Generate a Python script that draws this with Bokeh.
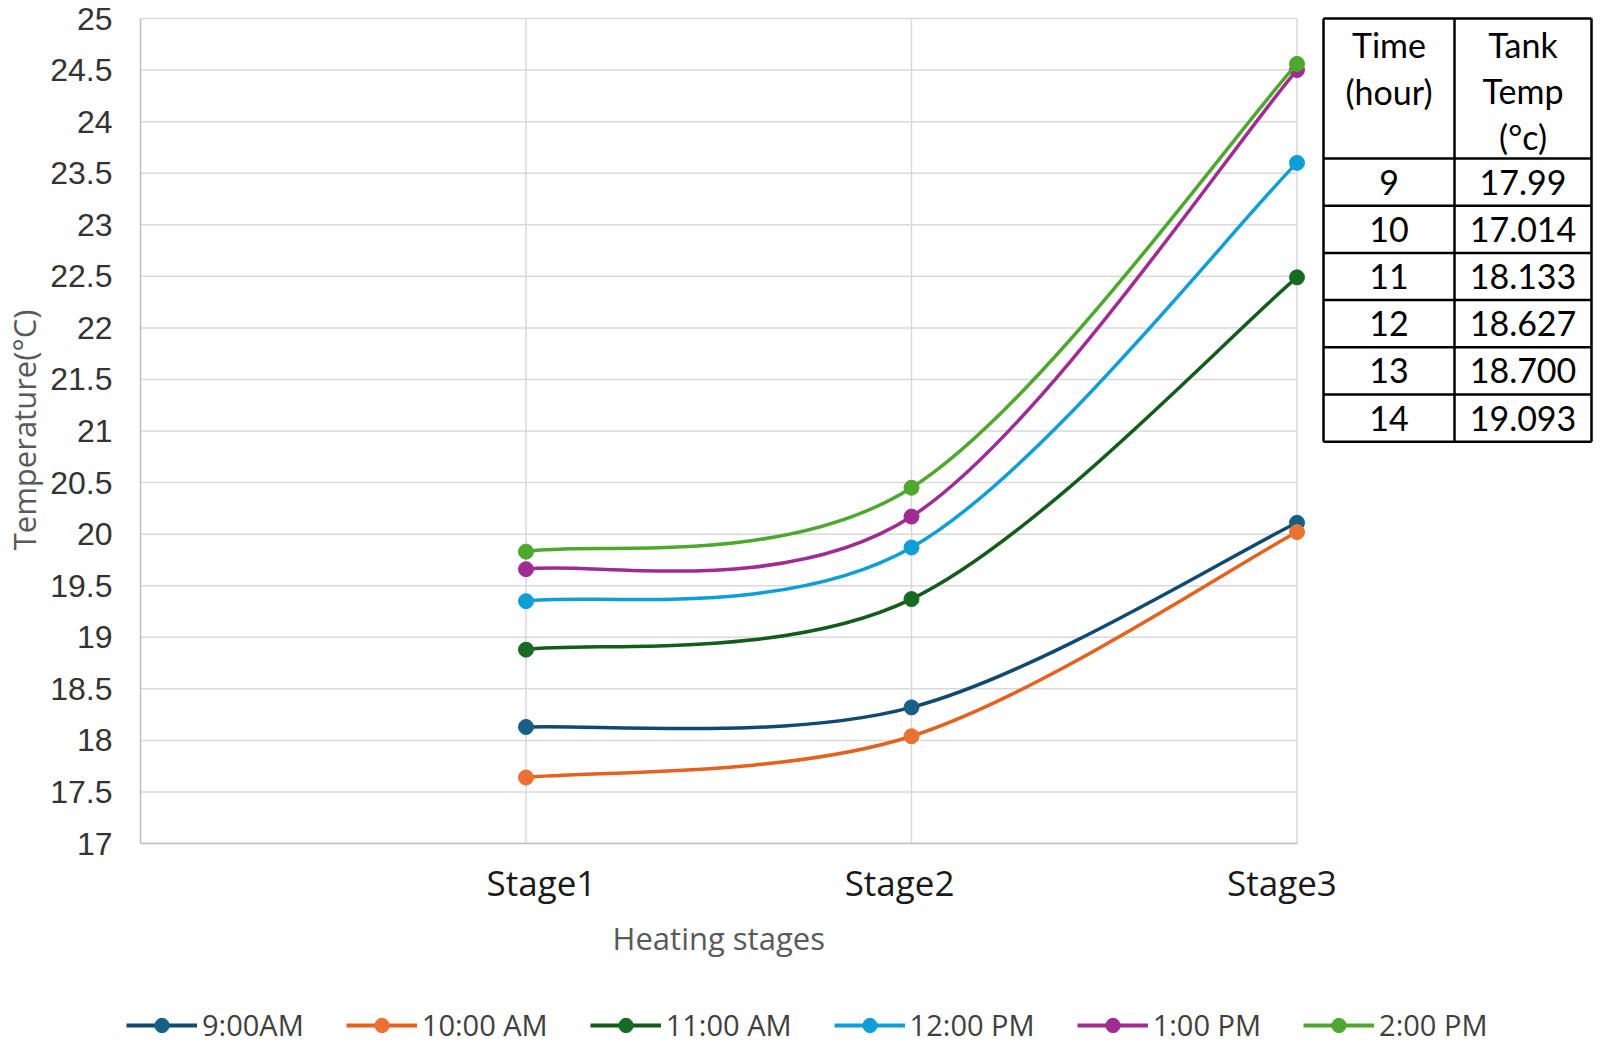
from bokeh.plotting import figure
from bokeh.models import (Range1d, FixedTicker, CustomJSTickFormatter, NumeralTickFormatter,
                          Legend, LegendItem)
from bokeh.layouts import column, row
from bokeh.embed import file_html
from bokeh.resources import INLINE
from bokeh.core.properties import value

# ---------------- data ----------------
stages = ["Stage1", "Stage2", "Stage3"]
series_names = ["9:00AM", "10:00 AM", "11:00 AM", "12:00 PM", "1:00 PM", "2:00 PM"]
t_0900 = [18.13, 18.32, 20.11]
t_1000 = [17.64, 18.04, 20.02]
t_1100 = [18.88, 19.37, 22.49]
t_1200 = [19.35, 19.87, 23.60]
t_1300 = [19.66, 20.17, 24.50]
t_1400 = [19.83, 20.45, 24.56]
series_values = [t_0900, t_1000, t_1100, t_1200, t_1300, t_1400]
y_ticks = [17, 17.5, 18, 18.5, 19, 19.5, 20, 20.5, 21, 21.5, 22, 22.5, 23, 23.5, 24, 24.5, 25]
x_title = "Heating stages"
y_title = "Temperature(°C)"

table_header_time = ["Time", "(hour)"]
table_header_temp = ["Tank", "Temp", "(°c)"]
table_hours = ["9", "10", "11", "12", "13", "14"]
table_temps = ["17.99", "17.014", "18.133", "18.627", "18.700", "19.093"]

# ---------------- style ----------------
line_colors = ["#114a70", "#E4621F", "#135c1c", "#0F9ED5", "#A02B93", "#4EA72E"]
marker_colors = ["#165f85", "#E97132", "#196B24", "#0F9ED5", "#A02B93", "#4EA72E"]
GRID = "#d9d9d9"
AXIS = "#bfbfbf"
FONT = "Open Sans"

PAGE_W = 1598
BORDER_L, BORDER_T = 140, 16
FRAME_W = PAGE_W - BORDER_L
FRAME_H = 827
MAIN_H = 910
BOTTOM_H = 136
PX_PER_STAGE = 385.5
PX_PER_DEG = 103.1

x_pos = [i + 1 for i in range(len(stages))]


def smooth_segments(xs, ys):
    """Bezier control points (Catmull-Rom style, like Excel's smoothed line)."""
    pts = list(zip(xs, ys))
    n = len(pts)
    out = {k: [] for k in ["x0", "y0", "x1", "y1", "cx0", "cy0", "cx1", "cy1"]}
    for i in range(n - 1):
        p0 = pts[i - 1] if i > 0 else pts[i]
        p1 = pts[i]
        p2 = pts[i + 1]
        p3 = pts[i + 2] if i + 2 < n else pts[i + 1]
        out["x0"].append(p1[0]); out["y0"].append(p1[1])
        out["x1"].append(p2[0]); out["y1"].append(p2[1])
        out["cx0"].append(p1[0] + (p2[0] - p0[0]) / 6.0)
        out["cy0"].append(p1[1] + (p2[1] - p0[1]) / 6.0)
        out["cx1"].append(p2[0] - (p3[0] - p1[0]) / 6.0)
        out["cy1"].append(p2[1] - (p3[1] - p1[1]) / 6.0)
    return out


# ---------------- main chart ----------------
y_top = y_ticks[-1] + 2.0 / PX_PER_DEG
p = figure(width=PAGE_W, height=MAIN_H,
           x_range=Range1d(0, FRAME_W / PX_PER_STAGE),
           y_range=Range1d(y_ticks[0], y_top),
           output_backend="svg", toolbar_location=None,
           min_border_left=BORDER_L, min_border_right=0, min_border_top=BORDER_T,
           min_border_bottom=MAIN_H - BORDER_T - FRAME_H)
p.xgrid.visible = False
p.ygrid.visible = False
p.outline_line_color = None
p.background_fill_color = "white"
p.border_fill_color = "white"

# grid lines bounded to the category span
p.segment(x0=[0] * len(y_ticks), x1=[len(stages)] * len(y_ticks), y0=y_ticks, y1=y_ticks,
          line_color=GRID, line_width=1.5)
p.segment(x0=x_pos, x1=x_pos, y0=[y_ticks[0]] * len(x_pos), y1=[y_ticks[-1]] * len(x_pos),
          line_color=GRID, line_width=1.5)

for name, vals, lc, mc in zip(series_names, series_values, line_colors, marker_colors):
    seg = smooth_segments(x_pos, vals)
    p.bezier(x0=seg["x0"], y0=seg["y0"], x1=seg["x1"], y1=seg["y1"],
             cx0=seg["cx0"], cy0=seg["cy0"], cx1=seg["cx1"], cy1=seg["cy1"],
             line_color=lc, line_width=3.5)
    p.scatter(x=x_pos, y=vals, size=15, fill_color=mc, line_color=mc)

# y axis
p.yaxis.ticker = FixedTicker(ticks=y_ticks, minor_ticks=[])
p.yaxis.formatter = NumeralTickFormatter(format="0.[0]")
p.yaxis.bounds = (y_ticks[0], y_ticks[-1])
p.yaxis.axis_line_color = AXIS
p.yaxis.axis_line_width = 1.5
p.yaxis.major_tick_line_color = None
p.yaxis.minor_tick_line_color = None
p.yaxis.major_label_text_font = "Liberation Sans"
p.yaxis.major_label_text_font_size = "32px"
p.yaxis.major_label_text_color = "#333333"
p.yaxis.major_label_standoff = 22
p.yaxis.axis_label = y_title
p.yaxis.axis_label_text_font = FONT
p.yaxis.axis_label_text_font_size = "31px"
p.yaxis.axis_label_text_font_style = "normal"
p.yaxis.axis_label_text_color = "#595959"
p.yaxis.axis_label_standoff = 2

# x axis (labels sit slightly off their grid lines, as in the original)
label_shift = [0.04, -0.031, -0.039]
p.xaxis.ticker = FixedTicker(ticks=[x + s for x, s in zip(x_pos, label_shift)], minor_ticks=[])
p.xaxis.formatter = CustomJSTickFormatter(args=dict(cats=stages),
                                          code="const i = Math.round(tick) - 1; return cats[i] || '';")
p.xaxis.bounds = (0, len(stages))
p.xaxis.axis_line_color = AXIS
p.xaxis.axis_line_width = 1.5
p.xaxis.major_tick_line_color = None
p.xaxis.minor_tick_line_color = None
p.xaxis.major_label_text_font = FONT
p.xaxis.major_label_text_font_size = "35px"
p.xaxis.major_label_text_color = "#1a1a1a"
p.xaxis.major_label_standoff = 9

# ---------------- table (pixel-like extra ranges inside the frame) ----------------
p.extra_x_ranges = {"px": Range1d(0, FRAME_W)}
p.extra_y_ranges = {"px": Range1d(FRAME_H, 0)}
t_left, t_split, t_right = 1183, 1314, 1451
t_top, header_h, row_h = 2, 140, 47.2
row_lines = [t_top] + [t_top + header_h + i * row_h for i in range(len(table_hours) + 1)]
t_bottom = row_lines[-1]
p.segment(x0=[t_left] * len(row_lines), x1=[t_right] * len(row_lines), y0=row_lines, y1=row_lines,
          line_color="black", line_width=2.5, x_range_name="px", y_range_name="px")
p.segment(x0=[t_left, t_split, t_right], x1=[t_left, t_split, t_right],
          y0=[t_top] * 3, y1=[t_bottom] * 3, line_color="black", line_width=2.5,
          x_range_name="px", y_range_name="px")

c1 = (t_left + t_split) / 2
c2 = (t_split + t_right) / 2
tfont = value("Lato")
TFS = "34px"
p.text(x=[c1] * len(table_header_time),
       y=[t_top + 26 + i * 46.5 for i in range(len(table_header_time))],
       text=table_header_time, text_align="center", text_baseline="middle",
       text_font=tfont, text_font_size=TFS, text_color="black",
       x_range_name="px", y_range_name="px")
p.text(x=[c2] * len(table_header_temp),
       y=[t_top + 26 + i * 46 for i in range(len(table_header_temp))],
       text=table_header_temp, text_align="center", text_baseline="middle",
       text_font=tfont, text_font_size=TFS, text_color="black",
       x_range_name="px", y_range_name="px")
row_mid = [t_top + header_h + (i + 0.5) * row_h for i in range(len(table_hours))]
p.text(x=[c1] * len(table_hours), y=row_mid, text=table_hours,
       text_align="center", text_baseline="middle",
       text_font=tfont, text_font_size=TFS, text_color="black",
       x_range_name="px", y_range_name="px")
p.text(x=[c2] * len(table_temps), y=row_mid, text=table_temps,
       text_align="center", text_baseline="middle",
       text_font=tfont, text_font_size=TFS, text_color="black",
       x_range_name="px", y_range_name="px")

# ---------------- bottom strip: x-axis title + legend ----------------
BL = 14
bf = figure(width=PAGE_W, height=BOTTOM_H,
            x_range=Range1d(0, PAGE_W - BL), y_range=Range1d(BOTTOM_H, 0),
            output_backend="svg", toolbar_location=None,
            x_axis_location=None, y_axis_location=None,
            min_border_left=BL, min_border_right=0, min_border_top=0, min_border_bottom=0)
bf.grid.visible = False
bf.outline_line_color = None
bf.background_fill_color = "white"
bf.border_fill_color = "white"

# axis title centred under the plotting area (frame centre of the category span)
title_x = BORDER_L + len(stages) * PX_PER_STAGE / 2 - BL
bf.text(x=[title_x], y=[27], text=[x_title], text_align="center", text_baseline="middle",
        text_font=value(FONT), text_font_size="31px", text_color="#595959")

items = []
nan = float("nan")
for name, lc, mc in zip(series_names, line_colors, marker_colors):
    r1 = bf.line(x=[nan], y=[nan], line_color=lc, line_width=4)
    r2 = bf.scatter(x=[nan], y=[nan], size=14, fill_color=mc, line_color=mc)
    items.append(LegendItem(label=name, renderers=[r1, r2]))
leg = Legend(items=items, location=(112, 2), orientation="horizontal",
             glyph_width=71, glyph_height=36, label_standoff=5, spacing=42,
             padding=0, margin=0, border_line_color=None, background_fill_alpha=0,
             label_text_font=FONT, label_text_font_size="29px", label_text_color="#404040")
bf.add_layout(leg, "center")

layout = column(row(p), bf)
open("out.html", "w").write(file_html(layout, INLINE))
